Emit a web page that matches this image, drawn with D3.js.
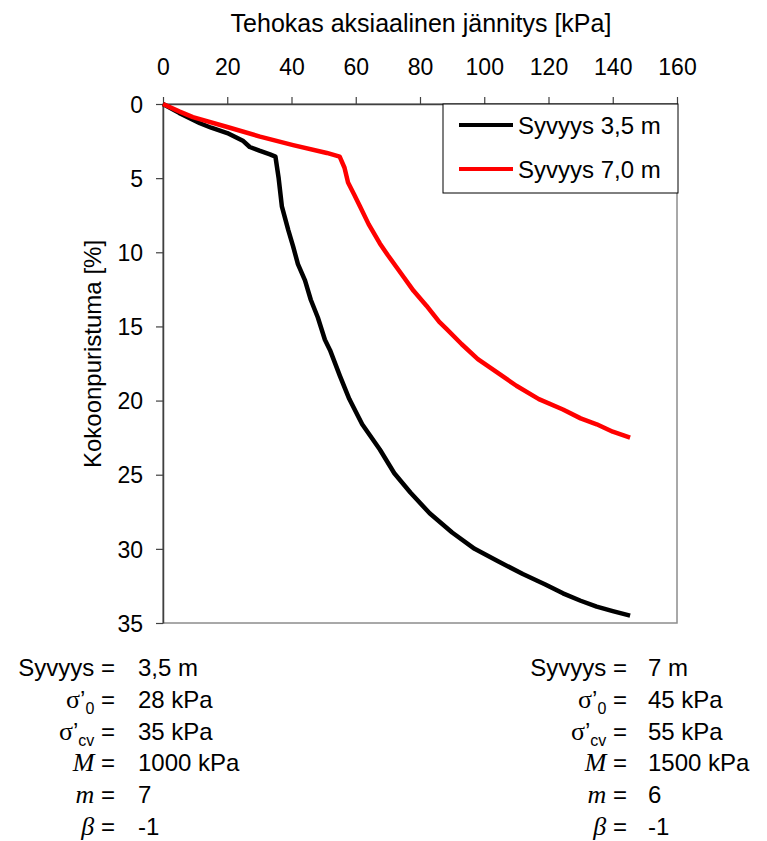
<!DOCTYPE html>
<html>
<head>
<meta charset="utf-8">
<script src="https://cdn.jsdelivr.net/npm/d3@7"></script>
<style>
  body { margin: 0; background: #fff; }
  svg { display: block; font-family: Arial, "Liberation Sans", sans-serif; }
</style>
</head>
<body>
<svg id="chart" width="767" height="841"></svg>
<script>
// Stress (kPa) vs. compression (%)
const depth35Stress = [0, 5, 11.5, 15, 20, 25, 27, 30, 33.3, 35, 36, 37, 39, 40.5, 42, 44.2, 46, 48.2, 50.4, 52, 55, 58, 62, 67.5, 72, 77, 83, 90, 97, 104, 112, 119, 124.5, 130, 135, 140, 145.4];
const depth35Strain = [0, 0.6, 1.3, 1.6, 1.96, 2.5, 2.9, 3.15, 3.4, 3.55, 5.0, 6.9, 8.5, 9.6, 10.8, 11.9, 13.2, 14.4, 15.9, 16.6, 18.3, 19.9, 21.6, 23.3, 24.9, 26.2, 27.6, 28.9, 30.0, 30.8, 31.7, 32.4, 33.0, 33.5, 33.9, 34.2, 34.5];

const depth70Stress = [0, 5, 9.3, 20, 30.2, 40.5, 51, 55, 56.5, 57.6, 59.5, 61.3, 64, 67.5, 70, 74, 78, 82, 86, 88.4, 93, 98, 104, 110, 117, 124.5, 130, 135, 140, 145.4];
const depth70Strain = [0, 0.5, 0.88, 1.55, 2.2, 2.77, 3.3, 3.55, 4.3, 5.3, 6.1, 6.9, 8.1, 9.4, 10.2, 11.4, 12.6, 13.6, 14.7, 15.2, 16.2, 17.2, 18.1, 19.0, 19.9, 20.6, 21.2, 21.6, 22.1, 22.5];

const xTicks = [0, 20, 40, 60, 80, 100, 120, 140, 160];
const yTicks = [0, 5, 10, 15, 20, 25, 30, 35];
const seriesNames = ["Syvyys 3,5 m", "Syvyys 7,0 m"];
const seriesColors = ["#000000", "#ff0000"];

// parameter tables below the chart
const leftParams = ["3,5 m", "28 kPa", "35 kPa", "1000 kPa", "7", "-1"];
const rightParams = ["7 m", "45 kPa", "55 kPa", "1500 kPa", "6", "-1"];

const svg = d3.select("#chart");
const margins = { left: 163, right: 677, top: 104, bottom: 623 };

const xScale = d3.scaleLinear().domain([0, 160]).range([margins.left, margins.right]);
const yScale = d3.scaleLinear().domain([0, 35]).range([margins.top, margins.bottom]);

// plot area border (right / bottom)
svg.append("rect")
    .attr("x", margins.left).attr("y", margins.top)
    .attr("width", margins.right - margins.left)
    .attr("height", margins.bottom - margins.top)
    .attr("fill", "none").attr("stroke", "#8c8c8c").attr("stroke-width", 1.5);

const xAxis = svg.append("g")
    .attr("transform", `translate(0,${margins.top})`)
    .call(d3.axisTop(xScale).tickValues(xTicks).tickSize(7).tickSizeOuter(0).tickPadding(22));
const yAxis = svg.append("g")
    .attr("transform", `translate(${margins.left},0)`)
    .call(d3.axisLeft(yScale).tickValues(yTicks).tickSize(7).tickSizeOuter(0).tickPadding(13));

[xAxis, yAxis].forEach((g) => {
    g.select(".domain").attr("stroke", "#404040").attr("stroke-width", 1.5);
    g.selectAll(".tick line").attr("stroke", "#404040").attr("stroke-width", 1.2);
    g.selectAll("text")
        .attr("font-size", 23)
        .attr("font-family", "Arial, 'Liberation Sans', sans-serif")
        .attr("fill", "#000");
});
xAxis.selectAll("text").attr("dy", "0");
yAxis.selectAll("text").attr("dy", "0.36em");

// axis titles
svg.append("text")
    .attr("x", 421).attr("y", 32)
    .attr("text-anchor", "middle")
    .attr("font-size", 25)
    .text("Tehokas aksiaalinen jännitys [kPa]");

svg.append("text")
    .attr("transform", "translate(101,354) rotate(-90)")
    .attr("text-anchor", "middle")
    .attr("font-size", 24)
    .text("Kokoonpuristuma [%]");

// curves
const line = d3.line().x((d) => xScale(d[0])).y((d) => yScale(d[1]));
const seriesData = [
    d3.zip(depth35Stress, depth35Strain),
    d3.zip(depth70Stress, depth70Strain)
];

svg.append("g")
    .selectAll("path")
    .data(seriesData)
    .join("path")
    .attr("d", line)
    .attr("fill", "none")
    .attr("stroke", (d, i) => seriesColors[i])
    .attr("stroke-width", 4.5)
    .attr("stroke-linejoin", "round");

// legend
const legend = svg.append("g").attr("transform", "translate(443,104)");
legend.append("rect")
    .attr("width", 235).attr("height", 89)
    .attr("fill", "#fff").attr("stroke", "#000").attr("stroke-width", 1);
seriesNames.forEach((name, i) => {
    const y = 21 + i * 44;
    legend.append("line")
        .attr("x1", 16).attr("x2", 70).attr("y1", y).attr("y2", y)
        .attr("stroke", seriesColors[i]).attr("stroke-width", 4);
    legend.append("text")
        .attr("x", 75).attr("y", y + 8.5)
        .attr("font-size", 24)
        .text(name);
});

// parameter blocks
function labelCell(t, row) {
    const serif = "'Times New Roman', 'Liberation Serif', serif";
    if (row === 0) {
        t.append("tspan").text("Syvyys =");
    } else if (row === 1 || row === 2) {
        t.append("tspan").attr("font-family", serif).attr("font-size", 26).text("σ");
        t.append("tspan").text("’");
        t.append("tspan").attr("font-size", 16).attr("dy", 6).text(row === 1 ? "0" : "cv");
        t.append("tspan").attr("dy", -6).text(" =");
    } else {
        const sym = ["M", "m", "β"][row - 3];
        t.append("tspan").attr("font-family", serif).attr("font-style", "italic").attr("font-size", 26).text(sym);
        t.append("tspan").text(" =");
    }
}

function paramBlock(values, eqX, valX) {
    const g = svg.append("g").attr("font-size", 24);
    values.forEach((v, i) => {
        const y = 676 + i * 31.8;
        const t = g.append("text").attr("x", eqX).attr("y", y).attr("text-anchor", "end");
        labelCell(t, i);
        g.append("text").attr("x", valX).attr("y", y).text(v);
    });
}

paramBlock(leftParams, 115, 138);
paramBlock(rightParams, 627, 648);
</script>
</body>
</html>
